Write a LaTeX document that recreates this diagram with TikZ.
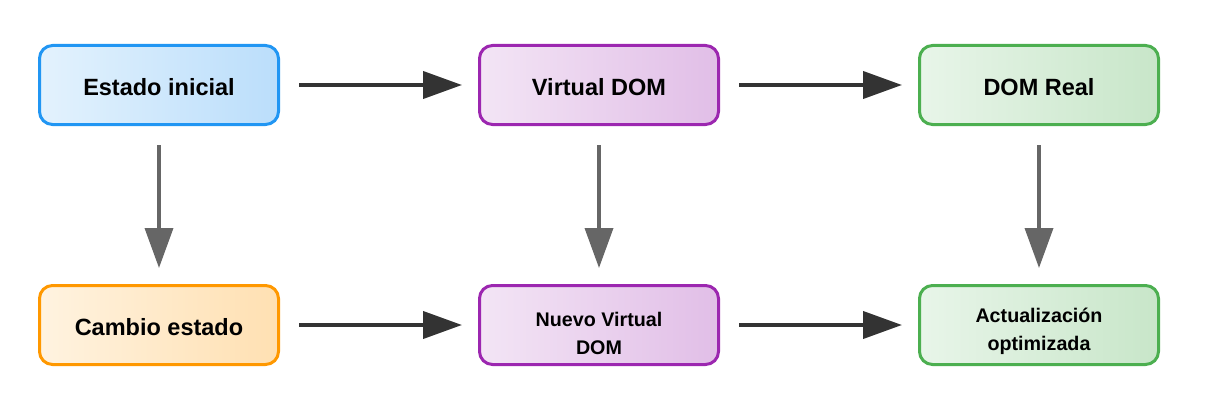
\documentclass[tikz,border=0pt]{standalone}
\usepackage{fontspec}
\setmainfont{Liberation Sans}
\usetikzlibrary{arrows.meta}
\definecolor{bluebd}{HTML}{2196F3}
\definecolor{bluel}{HTML}{E3F2FD}
\definecolor{bluer}{HTML}{BBDEFB}
\definecolor{purbd}{HTML}{9C27B0}
\definecolor{purl}{HTML}{F3E5F5}
\definecolor{purr}{HTML}{E1BEE7}
\definecolor{grnbd}{HTML}{4CAF50}
\definecolor{grnl}{HTML}{E8F5E9}
\definecolor{grnr}{HTML}{C8E6C9}
\definecolor{orbd}{HTML}{FF9800}
\definecolor{orl}{HTML}{FFF3E0}
\definecolor{orr}{HTML}{FFE0B2}
\definecolor{darkarrow}{HTML}{333333}
\definecolor{grayarrow}{HTML}{666666}
\newcommand{\twolines}[3]{\raisebox{#1}[0pt][0pt]{\begin{tabular}[t]{@{}c@{}}#2\\#3\end{tabular}}}
\newcommand{\oneline}[1]{\raisebox{-10pt}[0pt][0pt]{#1}}
\tikzset{
  box/.style={rounded corners=13pt, line width=3pt, minimum width=239pt, minimum height=79pt,
    inner sep=0pt, align=center, font=\bfseries\fontsize{23.5}{28}\selectfont},
  smalltext/.style={font=\bfseries\fontsize{19.7}{28.5}\selectfont},
  bluebox/.style={box, draw=bluebd, left color=bluel, right color=bluer},
  purbox/.style={box, draw=purbd, left color=purl, right color=purr},
  grnbox/.style={box, draw=grnbd, left color=grnl, right color=grnr},
  orbox/.style={box, draw=orbd, left color=orl, right color=orr},
  harrow/.style={draw=darkarrow, line width=4pt, -{Triangle[length=39pt,width=27pt]}, shorten <=19pt, shorten >=16pt},
  varrow/.style={draw=grayarrow, line width=3.7pt, -{Triangle[length=40pt,width=28pt]}, shorten <=19pt, shorten >=16pt}
}
\begin{document}
\begin{tikzpicture}[x=1pt,y=-1pt]
\useasboundingbox (0,0) rectangle (1208,412);
\node[bluebox] (a) at (159,85) {\oneline{Estado inicial}};
\node[purbox] (b) at (599,85) {\oneline{Virtual DOM}};
\node[grnbox] (c) at (1039,85) {\oneline{DOM Real}};
\node[orbox] (d) at (159,325) {\oneline{Cambio estado}};
\node[purbox, smalltext] (e) at (599,325) {\twolines{-1pt}{Nuevo Virtual}{DOM}};
\node[grnbox, smalltext] (f) at (1039,325) {\twolines{3pt}{Actualización}{optimizada}};
\draw[harrow] (a) -- (b);
\draw[harrow] (b) -- (c);
\draw[harrow] (d) -- (e);
\draw[harrow] (e) -- (f);
\draw[varrow] (a) -- (d);
\draw[varrow] (b) -- (e);
\draw[varrow] (c) -- (f);
\end{tikzpicture}
\end{document}
